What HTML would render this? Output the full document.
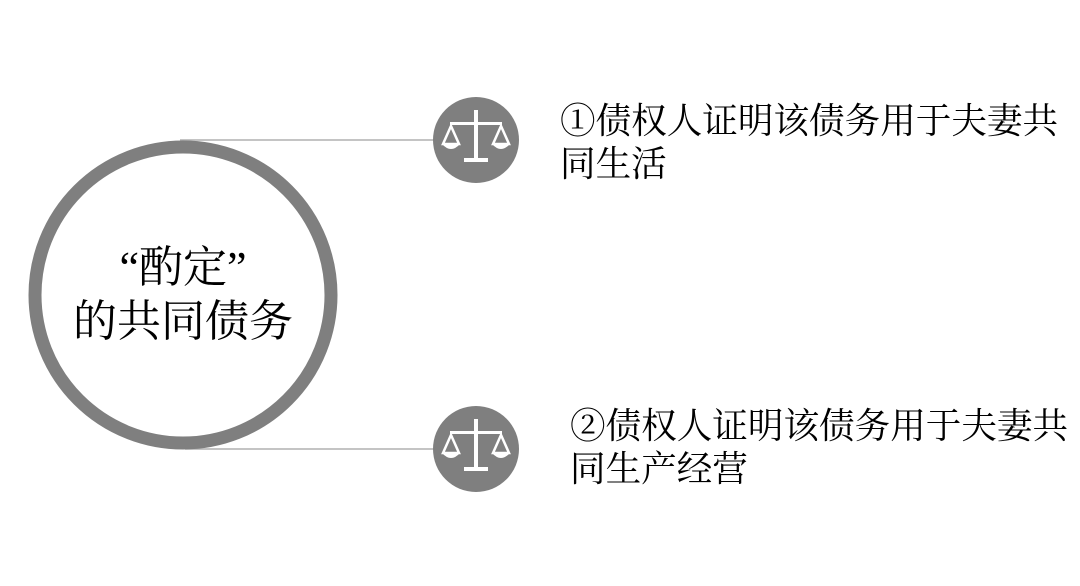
<!DOCTYPE html>
<html><head><meta charset="utf-8"><style>
body{margin:0;width:1080px;height:586px;background:#fff;overflow:hidden;position:relative;font-family:"Liberation Serif","Noto Serif CJK SC",serif;}
.t{position:absolute;color:#000;font-size:35.6px;line-height:43px;}
</style></head><body>
<svg width="1080" height="586" style="position:absolute;left:0;top:0">
<line x1="180" y1="140" x2="440" y2="140" stroke="#b0b0b0" stroke-width="1.5"/>
<line x1="185" y1="449" x2="440" y2="449" stroke="#b0b0b0" stroke-width="1.5"/>
<circle cx="183" cy="295" r="148" fill="#fff" stroke="#7f7f7f" stroke-width="13"/>
<g id="ic" transform="translate(476,140)">
<circle r="43" fill="#7f7f7f"/>
<g fill="#fff" stroke="#fff">
<rect x="-2" y="-30" width="4" height="50" stroke="none"/>
<rect x="-12" y="18" width="24" height="4" stroke="none"/>
<rect x="-26" y="-18" width="52" height="3" stroke="none"/>
<path d="M-25,-14 L-33,4 L-17,4 Z" fill="none" stroke-width="2.5"/>
<path d="M25,-14 L17,4 L33,4 Z" fill="none" stroke-width="2.5"/>
<path d="M-34,4 Q-25,14 -16,4 Z" stroke="none"/>
<path d="M16,4 Q25,14 34,4 Z" stroke="none"/>
</g></g>
<use href="#ic" transform="translate(0,309)"/>
</svg>
<div class="t" style="left:0;width:366px;top:241px;text-align:center;font-size:44px;line-height:54px">“酌定”<br>的共同债务</div>
<div class="t" style="left:560px;top:100px">①债权人证明该债务用于夫妻共<br>同生活</div>
<div class="t" style="left:570px;top:405px">②债权人证明该债务用于夫妻共<br>同生产经营</div>
</body></html>
